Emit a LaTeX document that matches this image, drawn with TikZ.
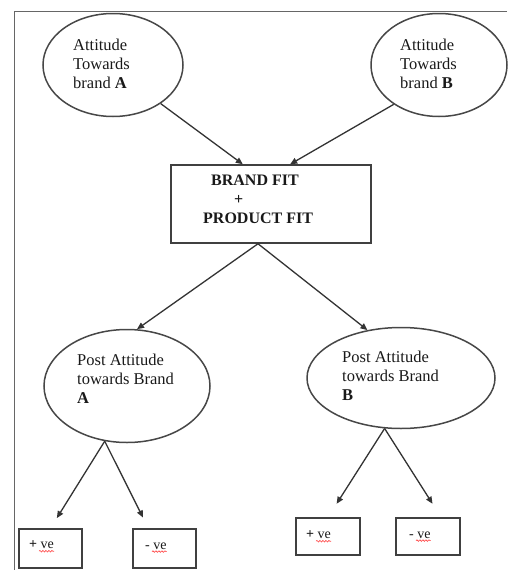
\documentclass[tikz,border=0pt]{standalone}
\usepackage{fontspec}
\setmainfont{Liberation Serif}
\usetikzlibrary{arrows.meta,shapes.geometric,calc,decorations.pathmorphing}
\begin{document}
\begin{tikzpicture}[x=1pt,y=-1pt,
  ell/.style={ellipse, draw=black!72, line width=1.5pt, inner sep=0pt},
  lbl/.style={align=left, font=\fontsize{16.5}{19}\selectfont, inner sep=0pt, anchor=west, text=black!90},
  boxtxt/.style={align=left, font=\bfseries\fontsize{16}{19}\selectfont, inner sep=0pt, anchor=west, text=black!90},
  arr/.style={-{Triangle[length=7pt,width=6pt]}, line width=1.3pt, draw=black!80},
  bx/.style={draw=black!75, line width=1.5pt},
  small/.style={font=\fontsize{14}{16}\selectfont, inner sep=0pt, anchor=west, text=black!90},
  wavy/.style={red!75, line width=0.6pt, decorate, decoration={snake, amplitude=0.8pt, segment length=3pt}},
  frame/.style={draw=black!60, line width=1pt}]
\useasboundingbox (0,0) rectangle (507,570);
% frame
\coordinate (ftr) at (507,11);
\coordinate (ftl) at (14,11);
\coordinate (fbl) at (14,570);
\draw[frame] (ftr) -- (ftl) -- (fbl);
% top ellipses
\node[ell, minimum width=140pt, minimum height=103pt] (ea) at (113,65) {};
\node[lbl] (ta) at (73,64) {Attitude\\Towards\\brand \textbf{A}};
\node[ell, minimum width=136pt, minimum height=103pt] (eb) at (439,65) {};
\node[lbl] (tb) at (400,64) {Attitude\\Towards\\brand \textbf{B}};
% central box
\node[bx, minimum width=200pt, minimum height=78pt] (box) at (271,204) {};
\node[boxtxt] (tbox) at (203,199) {\hspace{8pt}BRAND FIT\\\hspace{31pt}+\\PRODUCT FIT};
\draw[arr] (ea.-39) -- ($(box.north west)!0.36!(box.north east)$);
\draw[arr] (eb.-139) -- ($(box.north west)!0.595!(box.north east)$);
% post attitude ellipses
\node[ell, minimum width=166pt, minimum height=113pt] (pa) at (127,386) {};
\node[lbl] (tpa) at (77,379) {Post Attitude\\towards Brand\\\textbf{A}};
\node[ell, minimum width=188pt, minimum height=101pt] (pb) at (401,378) {};
\node[lbl] (tpb) at (342,376) {Post Attitude\\towards Brand\\\textbf{B}};
\coordinate (bs) at ($(box.south)+(-13,0)$);
\draw[arr] (bs) -- (pa.80);
\draw[arr] (bs) -- (pb.125);
% outcome boxes
\node[bx, minimum width=63pt, minimum height=39pt] (l1) at (50.5,548.5) {};
\node[bx, minimum width=63pt, minimum height=39pt] (l2) at (164.5,548.5) {};
\node[bx, minimum width=64pt, minimum height=37pt] (r1) at (328,536.5) {};
\node[bx, minimum width=64pt, minimum height=37pt] (r2) at (428,536.5) {};
\node[small] (t1) at (29,545) {\textbf{+} ve};
\node[small] (t2) at (145,546) {- ve};
\node[small] (t3) at (306,535) {\textbf{+} ve};
\node[small] (t4) at (409,535) {- ve};
\draw[wavy] ($(t1.south west)+(10,2)$) -- ($(t1.south east)+(0,2)$);
\draw[wavy] ($(t2.south west)+(7,2)$) -- ($(t2.south east)+(0,2)$);
\draw[wavy] ($(t3.south west)+(10,2)$) -- ($(t3.south east)+(0,2)$);
\draw[wavy] ($(t4.south west)+(7,2)$) -- ($(t4.south east)+(0,2)$);
\draw[arr, shorten >=12pt] (pa.-112) -- (l1.north);
\draw[arr, shorten >=12pt] (pa.-112) -- ($(l2.north west)!0.25!(l2.north east)$);
\draw[arr, shorten >=16pt] (pb.-108) -- (r1.north);
\draw[arr, shorten >=16pt] (pb.-108) -- ($(r2.north west)!0.7!(r2.north east)$);
\end{tikzpicture}
\end{document}
